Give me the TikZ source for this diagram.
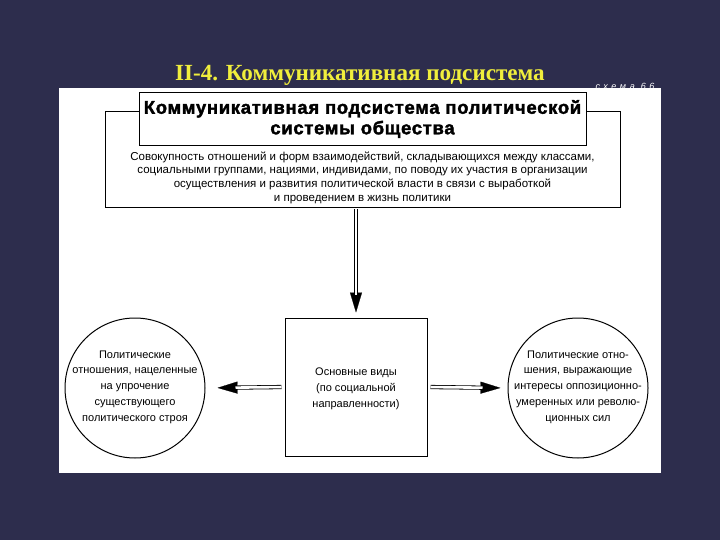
\documentclass[tikz,border=0pt]{standalone}
\usepackage{fontspec}
\setmainfont{Liberation Sans}
\newfontfamily\titlefont{Liberation Serif}
\newfontfamily\headfont[LetterSpace=4,FakeBold=2]{Liberation Sans Bold}
\newfontfamily\schemefont[LetterSpace=40]{Liberation Sans}
\usetikzlibrary{arrows.meta,calc}
\definecolor{bg}{RGB}{45,45,77}
\definecolor{ttl}{RGB}{240,238,60}
\tikzset{
  frame/.style={draw=black, line width=1pt, inner sep=0pt},
  txt/.style={font=\fontsize{11.5}{13.7}\selectfont, align=center, inner sep=0pt},
  smalltxt/.style={font=\fontsize{11}{15.7}\selectfont, align=center, inner sep=0pt},
  dbl/.style={draw=black, double=white, double distance=2.6pt, line width=0.8pt},
  headtip/.style={draw=white, line width=0.2pt, -{Triangle[length=20pt,width=12pt,color=black]}},
}
\begin{document}
\begin{tikzpicture}[x=1pt,y=-1pt]
\useasboundingbox (0,0) rectangle (720,540);
\fill[bg] (0,0) rectangle (720,540);
\node[font=\titlefont\bfseries\fontsize{23.1}{26}\selectfont, text=ttl] (title) at (360,75) {II-4. Коммуникативная подсистема};
\node[font=\schemefont\itshape\fontsize{9}{10}\selectfont, text=white!85, anchor=east] (scheme) at (658,86) {схема 66};
\node[fill=white, minimum width=602pt, minimum height=385pt, inner sep=0pt] (panel) at (360,280.5) {};
% top block
\node[frame, minimum width=515pt, minimum height=96pt] (outer) at (362.5,160) {};
\node[frame, fill=white, minimum width=447pt, minimum height=53pt] (head) at (362.5,119.5) {};
\node[font=\headfont\fontsize{18.4}{20.5}\selectfont, align=center, inner sep=0pt] (headtext) at (362.5,119) {Коммуникативная подсистема политической\\системы общества};
\node[txt] (desc) at (362.5,177.5) {Совокупность отношений и форм взаимодействий, складывающихся между классами,\\
социальными группами, нациями, индивидами, по поводу их участия в организации\\
осуществления и развития политической власти в связи с выработкой\\
и проведением в жизнь политики};
% lower block
\node[frame, minimum width=142pt, minimum height=138pt] (sq) at (356,387) {};
\node[smalltxt, font=\fontsize{11}{16}\selectfont] (sqtext) at (356,389) {Основные виды\\(по социальной\\направленности)};
\node[frame, circle, minimum size=140pt] (lc) at (135,388) {};
\node[smalltxt] (lctext) at (135,387) {Политические\\отношения, нацеленные\\на упрочение\\существующего\\политического строя};
\node[frame, circle, minimum size=140pt] (rc) at (578,388) {};
\node[smalltxt] (rctext) at (578,387) {Политические отно-\\шения, выражающие\\интересы оппозиционно-\\умеренных или револю-\\ционных сил};
% arrows
\coordinate (vtop) at (sq.north |- outer.south);
\draw[headtip, shorten >=5pt] (vtop) -- (sq.north);
\draw[dbl, shorten <=1pt, shorten >=23pt] (vtop) -- (sq.north);
\draw[headtip, shorten <=3pt, shorten >=12pt] (sq.west) -- (lc.east);
\draw[dbl, shorten <=3pt, shorten >=30pt] (sq.west) -- (lc.east);
\draw[headtip, shorten <=3pt, shorten >=7pt] (sq.east) -- (rc.west);
\draw[dbl, shorten <=3pt, shorten >=25pt] (sq.east) -- (rc.west);
\end{tikzpicture}
\end{document}
